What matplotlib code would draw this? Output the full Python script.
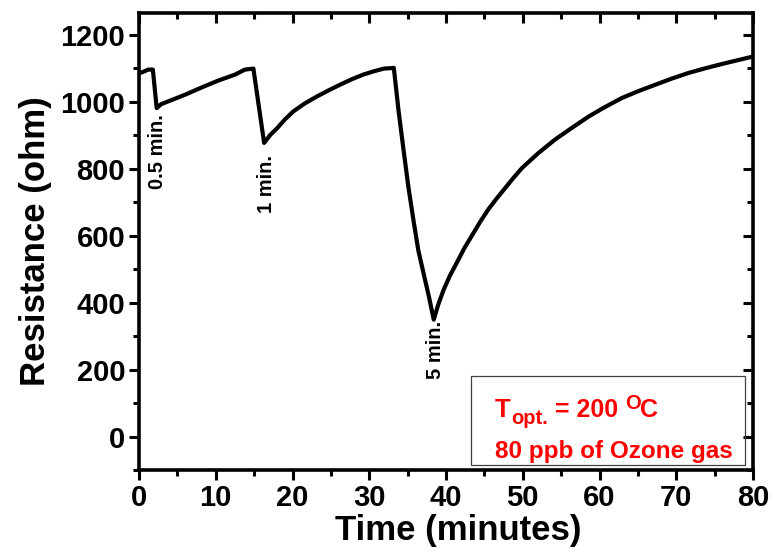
import matplotlib
matplotlib.use("Agg")
import matplotlib.pyplot as plt
from matplotlib.patches import Rectangle

# Resistance response of the sensor to 80 ppb ozone pulses at 200 C
time_min = [0.0, 0.4, 1.2, 1.8, 2.3, 2.9, 3.8, 6.0, 8.2, 10.3, 12.5, 13.8, 14.9,
            16.3, 17.1, 18.0, 19.0, 20.1, 21.6, 23.2, 24.7, 26.2, 27.7, 29.2,
            30.6, 31.9, 33.2,
            33.8, 34.5, 35.1, 35.8, 36.4, 37.1, 37.8, 38.4,
            39.0, 39.7, 40.5, 41.4, 42.4, 43.5, 44.5, 45.5, 46.6, 47.7, 48.8,
            49.9, 52.0, 54.2, 56.4, 58.6, 60.7, 62.9, 65.1, 67.3, 69.4, 71.6,
            73.8, 76.0, 78.0, 80.0]
resistance = [1085, 1088, 1096, 1096, 981, 993, 1001, 1021, 1043, 1063, 1081, 1096, 1099,
              877, 901, 921, 947, 971, 995, 1016, 1034, 1051, 1067, 1081,
              1091, 1099, 1101,
              976, 850, 745, 640, 555, 485, 415, 349,
              395, 439, 480, 519, 563, 605, 643, 678, 711, 742, 773,
              802, 846, 887, 922, 956, 984, 1011, 1032, 1051, 1069, 1086,
              1100, 1113, 1124, 1135]

# exposure labels: text, time, resistance where the label starts
pulse_labels = ["0.5 min.", "1 min.", "5 min."]
pulse_t = [2.4, 16.6, 38.6]
pulse_r = [962, 842, 345]

x_ticks = [0, 10, 20, 30, 40, 50, 60, 70, 80]
y_ticks = [0, 200, 400, 600, 800, 1000, 1200]
x_minor = [5, 15, 25, 35, 45, 55, 65, 75]
y_minor = [-100, 100, 300, 500, 700, 900, 1100]

plt.rcParams['font.family'] = ['Liberation Sans', 'DejaVu Sans']
plt.rcParams['font.weight'] = 'bold'

fig = plt.figure(figsize=(7.75, 5.54), dpi=100)
ax = fig.add_axes([0.1794, 0.1516, 0.7922, 0.8249])

ax.plot(time_min, resistance, color='black', lw=3.0, solid_joinstyle='round')

ax.set_xticks(x_ticks)
ax.set_yticks(y_ticks)
ax.set_xticks(x_minor, minor=True)
ax.set_yticks(y_minor, minor=True)
ax.set_xlim(0, 80)
ax.set_ylim(-100, 1265)

for s in ax.spines.values():
    s.set_linewidth(2.6)
    s.set_zorder(5)

ax.tick_params(axis='both', which='major', direction='out', length=7, width=2.2,
               labelsize=21, pad=3)
ax.tick_params(axis='both', which='minor', direction='out', length=4, width=2.2)

# mirrored inward ticks on top and right
ax_top = ax.secondary_xaxis('top')
ax_top.set_xticks(x_ticks)
ax_top.set_xticks(x_minor, minor=True)
ax_top.tick_params(which='major', direction='in', length=7, width=2.2, labeltop=False)
ax_top.tick_params(which='minor', direction='in', length=4, width=2.2)
ax_top.spines['top'].set_visible(False)
ax_right = ax.secondary_yaxis('right')
ax_right.set_yticks(y_ticks)
ax_right.set_yticks(y_minor, minor=True)
ax_right.tick_params(which='major', direction='in', length=7, width=2.2, labelright=False)
ax_right.tick_params(which='minor', direction='in', length=4, width=2.2)
ax_right.spines['right'].set_visible(False)

ax.set_xlabel('Time (minutes)', fontsize=25, fontweight='bold', labelpad=0)
ax.xaxis.set_label_coords(0.52, -0.097)
ax.set_ylabel('Resistance (ohm)', fontsize=25, fontweight='bold', labelpad=6)

for lab, t, r in zip(pulse_labels, pulse_t, pulse_r):
    ax.text(t, r, lab, rotation=90, ha='center', va='top', fontsize=14.5,
            fontweight='bold')

box = Rectangle((43.2, -84), 35.8, 266, fill=False, edgecolor='#404040', lw=0.9)
ax.add_patch(box)

# first legend line built piece by piece: T with subscript, value, degree sign
red = '#ff0000'
pieces = [("T", 18.5, 0), ("opt.", 14.5, -5), (" = 200 ", 18, 0), ("O", 14.5, 6), ("C", 18, 0)]
fig.canvas.draw()
renderer = fig.canvas.get_renderer()
x_off = 0.0
for txt, size, dy in pieces:
    t = ax.annotate(txt, xy=(46.4, 57), xycoords='data', xytext=(x_off, dy),
                    textcoords='offset points', color=red, fontsize=size,
                    fontweight='bold', ha='left', va='baseline')
    w = t.get_window_extent(renderer=renderer).width
    x_off += w * 72.0 / fig.dpi

ax.text(46.4, -63, '80 ppb of Ozone gas', color=red, fontsize=17.5,
        fontweight='bold', ha='left', va='baseline')

fig.savefig('out.png', dpi=100)
